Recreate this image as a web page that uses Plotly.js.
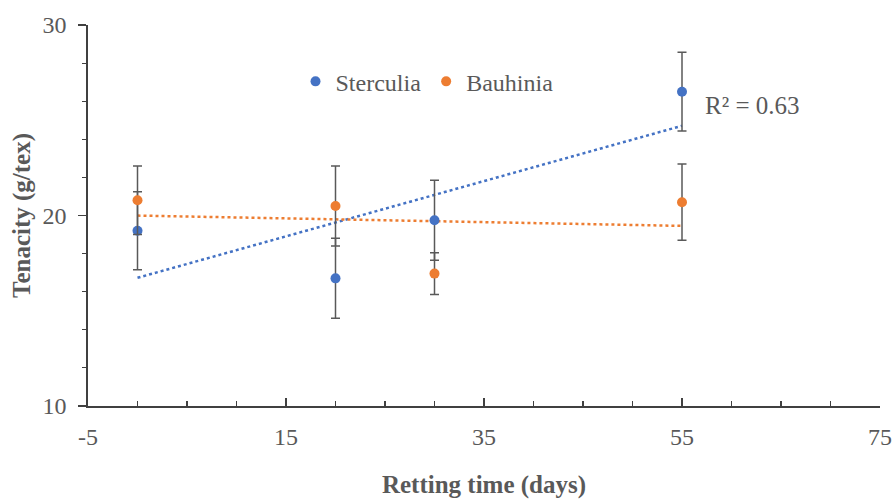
<!DOCTYPE html>
<html><head><meta charset="utf-8">
<script src="https://cdn.plot.ly/plotly-3.0.1.min.js"></script>
<style>html,body{margin:0;padding:0;background:#fff}#chart{width:894px;height:502px}</style>
</head><body><div id="chart"></div>
<script>
const seriesNames = ['Sterculia', 'Bauhinia'];
const rettingDays = [0, 20, 30, 55];
const sterculiaTenacity = [19.2, 16.7, 19.75, 26.5];
const sterculiaError = [2.05, 2.1, 2.1, 2.07];
const bauhiniaTenacity = [20.8, 20.5, 16.95, 20.7];
const bauhiniaError = [1.8, 2.1, 1.1, 2.0];
const xTickValues = [-5, 15, 35, 55, 75];
const xTickLabels = ['-5', '15', '35', '55', '75'];
const yTickValues = [10, 20, 30];
const yTickLabels = ['10', '20', '30'];
const rSquaredLabel = 'R\u00B2 = 0.63';

const BLUE = '#4472C4', ORANGE = '#ED7D31', GREY = '#595959';
const FONT = "'Liberation Serif'";

function linearFit(xs, ys) {
  const n = xs.length;
  const mx = xs.reduce((a, b) => a + b, 0) / n;
  const my = ys.reduce((a, b) => a + b, 0) / n;
  let sxy = 0, sxx = 0;
  for (let i = 0; i < n; i++) { sxy += (xs[i] - mx) * (ys[i] - my); sxx += (xs[i] - mx) ** 2; }
  const slope = sxy / sxx, icpt = my - slope * mx;
  const x0 = Math.min(...xs), x1 = Math.max(...xs);
  return { x: [x0, x1], y: [icpt + slope * x0, icpt + slope * x1] };
}

const fitS = linearFit(rettingDays, sterculiaTenacity);
const fitB = linearFit(rettingDays, bauhiniaTenacity);

const traces = [
  { x: fitS.x, y: fitS.y, mode: 'lines', line: { color: BLUE, width: 2.5, dash: 'dot' }, showlegend: false, hoverinfo: 'skip' },
  { x: fitB.x, y: fitB.y, mode: 'lines', line: { color: ORANGE, width: 2.5, dash: 'dot' }, showlegend: false, hoverinfo: 'skip' },
  { x: rettingDays, y: sterculiaTenacity, name: seriesNames[0], mode: 'markers', type: 'scatter',
    marker: { color: BLUE, size: 10 },
    error_y: { type: 'data', array: sterculiaError, visible: true, color: GREY, thickness: 1.5, width: 4.5 } },
  { x: rettingDays, y: bauhiniaTenacity, name: seriesNames[1], mode: 'markers', type: 'scatter',
    marker: { color: ORANGE, size: 10 },
    error_y: { type: 'data', array: bauhiniaError, visible: true, color: GREY, thickness: 1.5, width: 4.5 } }
];

const layout = {
  width: 894, height: 502,
  margin: { l: 88, r: 14, t: 25, b: 96 },
  paper_bgcolor: '#fff', plot_bgcolor: '#fff',
  font: { family: FONT, color: GREY, size: 24 },
  showlegend: true,
  legend: { orientation: 'h', x: 0.262, xanchor: 'left', y: 0.851, yanchor: 'middle',
    font: { family: FONT, size: 24, color: GREY }, bgcolor: 'rgba(0,0,0,0)' },
  xaxis: {
    range: [-5, 75], tickmode: 'array', tickvals: xTickValues, ticktext: xTickLabels,
    showgrid: false, zeroline: false, showline: true, linecolor: '#404040', linewidth: 1.6,
    ticks: 'inside', ticklen: 8, tickwidth: 1.5, tickcolor: '#404040',
    minor: { dtick: 5, tick0: -5, ticks: 'inside', ticklen: 5, tickwidth: 1.2, tickcolor: '#404040', showgrid: false },
    ticklabelstandoff: 9,
    tickfont: { family: FONT, size: 24, color: GREY },
    title: { text: 'Retting time (days)', font: { family: FONT, size: 25, color: GREY, weight: 'bold' }, standoff: 26 }
  },
  yaxis: {
    range: [10, 30], tickmode: 'array', tickvals: yTickValues, ticktext: yTickLabels,
    showgrid: false, zeroline: false, showline: true, linecolor: '#404040', linewidth: 1.6,
    ticks: 'outside', ticklen: 8, tickwidth: 1.5, tickcolor: '#404040',
    minor: { dtick: 2, tick0: 10, ticks: 'outside', ticklen: 4, tickwidth: 1.2, tickcolor: '#404040', showgrid: false },
    ticklabelstandoff: 7,
    tickfont: { family: FONT, size: 24, color: GREY },
    title: { text: 'Tenacity (g/tex)', font: { family: FONT, size: 25, color: GREY, weight: 'bold' }, standoff: 5 }
  },
  annotations: [{
    x: 57.1, y: 25.76, xref: 'x', yref: 'y', xanchor: 'left', yanchor: 'middle',
    text: rSquaredLabel, showarrow: false, font: { family: FONT, size: 25, color: GREY }
  }]
};

Plotly.newPlot('chart', traces, layout, { staticPlot: true, displayModeBar: false });
</script></body></html>
